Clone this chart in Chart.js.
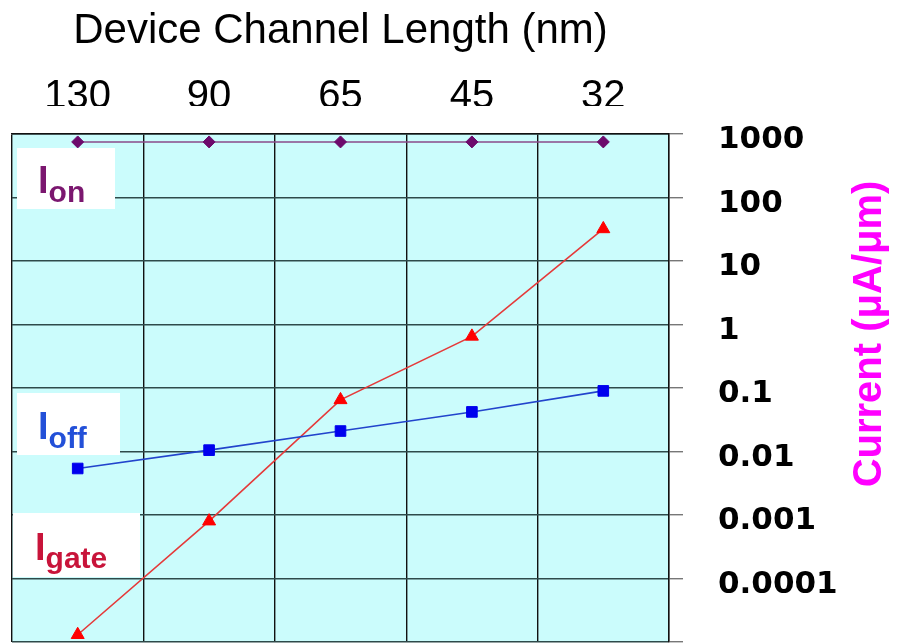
<!DOCTYPE html>
<html>
<head>
<meta charset="utf-8">
<script src="https://cdn.jsdelivr.net/npm/chart.js@4.4.1/dist/chart.umd.min.js"></script>
<style>
  html, body { margin: 0; padding: 0; background: #fff; overflow: hidden; }
  #wrap { width: 899px; height: 643px; }
</style>
</head>
<body>
<div id="wrap"><canvas id="c" width="899" height="643"></canvas></div>
<script>
// Technology nodes (channel length, nm) and currents per unit width (µA/µm)
const channelLengths = ['130', '90', '65', '45', '32'];
const ionValues   = [750, 750, 750, 750, 750];
const ioffValues  = [0.0054, 0.0105, 0.021, 0.042, 0.09];
const igateValues = [0.000013, 0.0008, 0.065, 0.65, 32];

// Decade ticks on the current axis
const yTickValues = [0.00001, 0.0001, 0.001, 0.01, 0.1, 1, 10, 100, 1000];
const yTickLabels = ['', '0.0001', '0.001', '0.01', '0.1', '1', '10', '100', '1000'];

const SANS = "'Liberation Sans', Arial, sans-serif";

// light cyan fill behind the grid
const plotBackground = {
  id: 'plotBackground',
  beforeDraw(chart) {
    const { ctx, chartArea: a } = chart;
    ctx.save();
    ctx.fillStyle = '#cbfcfc';
    ctx.fillRect(a.left, a.top, a.right - a.left, a.bottom - a.top);
    ctx.restore();
  }
};

// white strip under the node labels and the boxed series tags (I_on, I_off, I_gate)
const seriesTags = {
  id: 'seriesTags',
  beforeDatasetsDraw(chart, args, opts) {
    const { ctx, chartArea: a } = chart;
    ctx.save();
    ctx.fillStyle = '#ffffff';
    ctx.fillRect(0, opts.stripTop, a.right + 20, a.top - opts.stripTop - 1);
    for (const t of opts.tags) {
      ctx.fillStyle = '#ffffff';
      ctx.fillRect(t.box[0], t.box[1], t.box[2], t.box[3]);
      ctx.fillStyle = t.color;
      ctx.textBaseline = 'alphabetic';
      ctx.textAlign = 'left';
      ctx.font = 'bold 38px ' + SANS;
      ctx.fillText(t.main, t.x, t.base);
      const w = ctx.measureText(t.main).width;
      ctx.font = 'bold 30px ' + SANS;
      ctx.fillText(t.sub, t.x + w, t.base + t.drop);
    }
    ctx.restore();
  }
};

// rotated title of the current axis, reading bottom to top
const currentAxisTitle = {
  id: 'currentAxisTitle',
  afterDraw(chart, args, opts) {
    const { ctx } = chart;
    ctx.save();
    ctx.translate(opts.x, opts.y);
    ctx.rotate(-Math.PI / 2);
    ctx.fillStyle = opts.color;
    ctx.font = 'bold 40px ' + SANS;
    ctx.textAlign = 'center';
    ctx.textBaseline = 'alphabetic';
    ctx.fillText(opts.text, 0, 0);
    ctx.restore();
  }
};

new Chart(document.getElementById('c'), {
  type: 'line',
  data: {
    labels: channelLengths,
    datasets: [
      {
        label: 'Ion',
        data: ionValues,
        borderColor: '#8a4a8a',
        borderWidth: 1.6,
        pointStyle: 'rectRot',
        pointRadius: 6,
        pointBackgroundColor: '#6c0a6c',
        pointBorderColor: '#6c0a6c',
        pointBorderWidth: 1,
        tension: 0
      },
      {
        label: 'Ioff',
        data: ioffValues,
        borderColor: '#2244cc',
        borderWidth: 1.6,
        pointStyle: 'rect',
        pointRadius: 7.5,
        pointBackgroundColor: '#0000ee',
        pointBorderColor: '#0000ee',
        pointBorderWidth: 1,
        tension: 0
      },
      {
        label: 'Igate',
        data: igateValues,
        borderColor: '#e53a3a',
        borderWidth: 1.6,
        pointStyle: 'triangle',
        pointRadius: 7.5,
        pointBackgroundColor: '#ff0000',
        pointBorderColor: '#ff0000',
        pointBorderWidth: 1,
        tension: 0
      }
    ]
  },
  options: {
    responsive: false,
    devicePixelRatio: 1,
    animation: false,
    layout: { autoPadding: false, padding: { left: 12, right: 0, top: 0, bottom: 1 } },
    plugins: {
      legend: { display: false },
      tooltip: { enabled: false },
      seriesTags: {
        stripTop: 106,
        tags: [
          { main: 'I', sub: 'on',   color: '#7b176f', box: [17, 148, 98, 61],  x: 38, base: 193, drop: 9 },
          { main: 'I', sub: 'off',  color: '#2350d8', box: [17, 393, 103, 62], x: 38, base: 439, drop: 9 },
          { main: 'I', sub: 'gate', color: '#c8143a', box: [13, 513, 127, 64], x: 35, base: 560, drop: 8 }
        ]
      },
      currentAxisTitle: { text: 'Current (μA/μm)', color: '#ff00ff', x: 881, y: 334 }
    },
    scales: {
      x: {
        type: 'category',
        position: 'top',
        offset: true,
        grid: { offset: true, color: '#111111', lineWidth: 1.4, drawTicks: false },
        border: { color: '#111111', width: 1.4 },
        ticks: {
          color: '#000000',
          font: { family: SANS, size: 40 },
          padding: 13,
          maxRotation: 0,
          autoSkip: false
        },
        title: {
          display: true,
          text: 'Device Channel Length (nm)',
          color: '#000000',
          font: { family: SANS, size: 42 },
          padding: { top: 6, bottom: 0 }
        },
        afterFit(s) { s.height = 134; s.paddingLeft = 0; s.paddingRight = 0; }
      },
      y: {
        type: 'logarithmic',
        position: 'right',
        min: 0.00001,
        max: 1000,
        afterBuildTicks(s) { s.ticks = yTickValues.map(v => ({ value: v })); },
        grid: { color: '#2e4a4a', lineWidth: 1.4, tickLength: 14, tickColor: '#777777' },
        border: { display: true, color: '#111111', width: 1.4 },
        ticks: {
          color: '#000000',
          font: { family: "'DejaVu Sans', sans-serif", weight: 'bold', size: 31 },
          padding: 35,
          labelOffset: 6,
          autoSkip: false,
          callback: (v) => yTickLabels[yTickValues.indexOf(v)]
        },
        afterFit(s) { s.width = 230; s.paddingTop = 0; s.paddingBottom = 0; }
      }
    }
  },
  plugins: [plotBackground, seriesTags, currentAxisTitle]
});
</script>
</body>
</html>
